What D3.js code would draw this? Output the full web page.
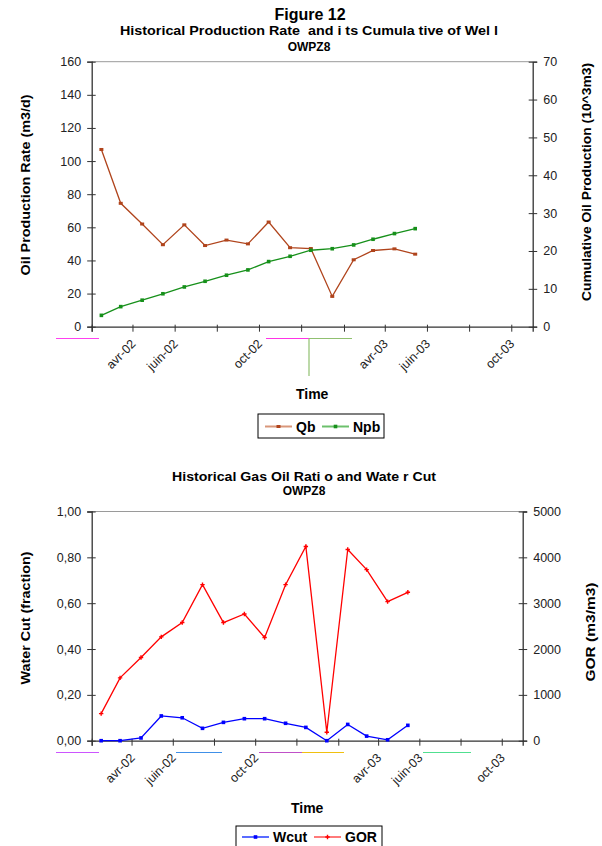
<!DOCTYPE html>
<html>
<head>
<meta charset="utf-8">
<script src="https://cdn.jsdelivr.net/npm/d3@7"></script>
<style>
  html, body { margin: 0; padding: 0; background: #fff; }
  svg { display: block; font-family: "Liberation Sans", Arial, sans-serif; }
  text { white-space: pre; }
</style>
</head>
<body>
<svg id="chart" width="602" height="846"></svg>
<script>
// ---- Well OWPZ8 monthly history ----
const dates = [
  "2002-02-15", "2002-03-15", "2002-04-15", "2002-05-15", "2002-06-15", "2002-07-15",
  "2002-08-15", "2002-09-15", "2002-10-15", "2002-11-15", "2002-12-15", "2003-01-15",
  "2003-02-15", "2003-03-15", "2003-04-15", "2003-05-15"
];
// oil production rate, m3/d
const qb   = [107, 74.5, 62, 49.5, 61.5, 49, 52.3, 50, 63.2, 47.7, 47.2, 18.3, 40.4, 46, 47, 43.8];
// cumulative oil production, 10^3 m3
const npb  = [3.0, 5.3, 7.0, 8.7, 10.5, 12.0, 13.6, 15.0, 17.2, 18.6, 20.2, 20.6, 21.6, 23.1, 24.6, 25.9];
// water cut, fraction
const wcut = [0, 0, 0.012, 0.108, 0.100, 0.054, 0.080, 0.096, 0.096, 0.076, 0.058, 0, 0.071, 0.020, 0.004, 0.067];
// gas oil ratio, m3/m3
const gor  = [590, 1370, 1815, 2265, 2577, 3404, 2577, 2764, 2251, 3404, 4238, 185, 4170, 3731, 3034, 3237];

// axis ticks and labels
const timeTickLabels = ["", "avr-02", "juin-02", "", "oct-02", "", "", "avr-03", "juin-03", "", "oct-03"];
const rateTicks = [0, 20, 40, 60, 80, 100, 120, 140, 160];
const cumTicks  = [0, 10, 20, 30, 40, 50, 60, 70];
const wcutTicks = [0, 0.2, 0.4, 0.6, 0.8, 1.0];
const gorTicks  = [0, 1000, 2000, 3000, 4000, 5000];

const parse = d3.timeParse("%Y-%m-%d");
const when = dates.map(parse);
const timeStart = new Date(2002, 1, 1);
const timeEnd = new Date(2003, 10, 1);
const timeTicks = timeTickLabels.map((_, i) => d3.timeMonth.offset(timeStart, 2 * i));
const commaFmt = v => d3.format(".2f")(v).replace(".", ",");

const svg = d3.select("#chart");
const AXIS = "#333";

function title(lines) {
  lines.forEach(l => {
    svg.append("text")
      .attr("x", l.x).attr("y", l.y)
      .attr("text-anchor", "middle")
      .attr("font-weight", "bold")
      .attr("font-size", l.size)
      .attr("textLength", l.len || null)
      .attr("lengthAdjust", "spacingAndGlyphs")
      .attr("fill", "#000")
      .text(l.text);
  });
}

function panel(cfg) {
  const x = d3.scaleTime().domain([timeStart, timeEnd]).range([cfg.left, cfg.right]);
  const yL = d3.scaleLinear().domain(cfg.leftDomain).range([cfg.bottom, cfg.top]);
  const yR = d3.scaleLinear().domain(cfg.rightDomain).range([cfg.bottom, cfg.top]);
  const g = svg.append("g");

  // plot frame: light top edge
  g.append("line").attr("x1", cfg.left).attr("x2", cfg.right)
    .attr("y1", cfg.top).attr("y2", cfg.top)
    .attr("stroke", "#9a9a9a").attr("stroke-width", 1);

  // left axis
  const ax = g.append("g").attr("transform", `translate(${cfg.left},0)`)
    .call(d3.axisLeft(yL).tickValues(cfg.leftTicks).tickFormat(cfg.leftFmt).tickSize(4.5).tickPadding(6));
  ax.select(".domain").attr("stroke", AXIS).attr("stroke-width", 1.3);
  ax.selectAll(".tick line").attr("x2", -4.5).attr("x1", 4).attr("stroke", AXIS);
  ax.selectAll(".tick text").attr("font-size", 12.5).attr("fill", "#222").attr("font-family", "Liberation Sans, Arial");

  // right axis
  const ar = g.append("g").attr("transform", `translate(${cfg.right},0)`)
    .call(d3.axisRight(yR).tickValues(cfg.rightTicks).tickFormat(cfg.rightFmt).tickSize(4.5).tickPadding(6));
  ar.select(".domain").attr("stroke", AXIS).attr("stroke-width", 1.3);
  ar.selectAll(".tick line").attr("x2", 4.5).attr("x1", -4).attr("stroke", AXIS);
  ar.selectAll(".tick text").attr("font-size", 12.5).attr("fill", "#222").attr("font-family", "Liberation Sans, Arial");

  // time axis
  const ab = g.append("g").attr("transform", `translate(0,${cfg.bottom})`)
    .call(d3.axisBottom(x).tickValues(timeTicks).tickFormat("").tickSize(5));
  ab.select(".domain").attr("stroke", AXIS).attr("stroke-width", 1.3);
  ab.selectAll(".tick line").attr("y1", -2).attr("stroke", AXIS);
  timeTicks.forEach((d, i) => {
    if (!timeTickLabels[i]) return;
    g.append("text")
      .attr("transform", `translate(${x(d) + 4},${cfg.bottom + 18}) rotate(-45)`)
      .attr("text-anchor", "end")
      .attr("font-size", 12.5).attr("fill", "#222")
      .text(timeTickLabels[i]);
  });

  // short coloured strokes under the time axis
  cfg.strokes.forEach(s => {
    g.append("line").attr("x1", s.x1).attr("x2", s.x2).attr("y1", s.y1).attr("y2", s.y2)
      .attr("stroke", s.c).attr("stroke-width", 1.2);
  });

  // series
  cfg.series.forEach(s => {
    const y = s.axis === "left" ? yL : yR;
    const pts = s.values.map((v, i) => [x(when[i]), y(v)]);
    g.append("path").attr("d", d3.line()(pts))
      .attr("fill", "none").attr("stroke", s.color).attr("stroke-width", 1.3);
    pts.forEach(p => marker(g, p[0], p[1], s.marker, s.color));
  });

  // axis titles
  const at = (tx, ty, text, len) => g.append("text")
    .attr("transform", `translate(${tx},${ty}) rotate(-90)`)
    .attr("text-anchor", "middle").attr("font-weight", "bold").attr("font-size", 13.5)
    .attr("textLength", len).attr("lengthAdjust", "spacingAndGlyphs")
    .text(text);
  at(cfg.leftTitle.x, cfg.leftTitle.y, cfg.leftTitle.text, cfg.leftTitle.len);
  at(cfg.rightTitle.x, cfg.rightTitle.y, cfg.rightTitle.text, cfg.rightTitle.len);

  g.append("text")
    .attr("x", (cfg.left + cfg.right) / 2).attr("y", cfg.timeTitleY)
    .attr("text-anchor", "middle").attr("font-weight", "bold").attr("font-size", 14)
    .text("Time");

  // legend
  const lg = cfg.legend;
  g.append("rect").attr("x", lg.x).attr("y", lg.y).attr("width", lg.w).attr("height", lg.h)
    .attr("fill", "#fff").attr("stroke", "#000").attr("stroke-width", 1);
  cfg.series.forEach((s, i) => {
    const sx = lg.x + lg.items[i];
    const cy = lg.y + lg.cy;
    g.append("line").attr("x1", sx).attr("x2", sx + 27).attr("y1", cy).attr("y2", cy)
      .attr("stroke", s.legendColor).attr("stroke-width", 2);
    marker(g, sx + 13.5, cy, s.marker, s.color);
    g.append("text").attr("x", sx + 31).attr("y", cy + 5)
      .attr("font-weight", "bold").attr("font-size", 14).text(s.name);
  });
}

function marker(g, cx, cy, type, color) {
  if (type === "square") {
    g.append("rect").attr("x", cx - 1.8).attr("y", cy - 1.8).attr("width", 3.6).attr("height", 3.6)
      .attr("fill", color);
  } else if (type === "plus") {
    g.append("path").attr("d", `M${cx - 2.2},${cy}H${cx + 2.2}M${cx},${cy - 2.2}V${cy + 2.2}`)
      .attr("stroke", color).attr("stroke-width", 1.4);
  } else {
    g.append("rect").attr("x", cx - 2).attr("y", cy - 1.5).attr("width", 4).attr("height", 3)
      .attr("fill", color);
  }
}

// ---- Figure 12: production rate and cumulative ----
title([
  { x: 310, y: 20, size: 16, text: "Figure 12" },
  { x: 309, y: 35, size: 12, text: "Historical Production Rate  and i ts Cumula tive of Wel l", len: 378 },
  { x: 309, y: 51, size: 12, text: "OWPZ8" }
]);

panel({
  left: 91.7, right: 532.7, top: 61.7, bottom: 326.7,
  leftDomain: [0, 160], rightDomain: [0, 70],
  leftTicks: rateTicks, rightTicks: cumTicks,
  leftFmt: d3.format("d"), rightFmt: d3.format("d"),
  leftTitle: { x: 30, y: 185, text: "Oil Production Rate (m3/d)", len: 181 },
  rightTitle: { x: 591, y: 182, text: "Cumulative Oil Production (10^3m3)", len: 238 },
  timeTitleY: 399,
  legend: { x: 258, y: 414, w: 126, h: 24, cy: 12.5, items: [7, 64] },
  strokes: [
    { x1: 56, x2: 99, y1: 338.5, y2: 338.5, c: "#ff40f0" },
    { x1: 266, x2: 309, y1: 338.5, y2: 338.5, c: "#ff33e6" },
    { x1: 309, x2: 352, y1: 338.5, y2: 338.5, c: "#90c070" },
    { x1: 309, x2: 309, y1: 338.5, y2: 376, c: "#90c070" }
  ],
  series: [
    { name: "Qb", values: qb, axis: "left", color: "#b0441c", legendColor: "#d9977a", marker: "dash" },
    { name: "Npb", values: npb, axis: "right", color: "#16901a", legendColor: "#6cc06c", marker: "square" }
  ]
});

// ---- Gas oil ratio and water cut ----
title([
  { x: 304, y: 481, size: 12, text: "Historical Gas Oil Rati o and Wate r Cut", len: 264 },
  { x: 304, y: 495, size: 12, text: "OWPZ8" }
]);

panel({
  left: 91.7, right: 522.7, top: 511.5, bottom: 740.7,
  leftDomain: [0, 1], rightDomain: [0, 5000],
  leftTicks: wcutTicks, rightTicks: gorTicks,
  leftFmt: commaFmt, rightFmt: d3.format("d"),
  leftTitle: { x: 30, y: 618, text: "Water Cut (fraction)", len: 133 },
  rightTitle: { x: 595, y: 632, text: "GOR (m3/m3)", len: 99 },
  timeTitleY: 813,
  legend: { x: 236, y: 826, w: 146, h: 24, cy: 11, items: [6, 78] },
  strokes: [
    { x1: 56, x2: 99, y1: 752.5, y2: 752.5, c: "#cc55ff" },
    { x1: 176, x2: 222, y1: 752.5, y2: 752.5, c: "#4090e8" },
    { x1: 259, x2: 302, y1: 752.5, y2: 752.5, c: "#c050c8" },
    { x1: 302, x2: 344, y1: 752.5, y2: 752.5, c: "#f0c010" },
    { x1: 423, x2: 471, y1: 752.5, y2: 752.5, c: "#50e090" }
  ],
  series: [
    { name: "Wcut", values: wcut, axis: "left", color: "#0000ff", legendColor: "#5a6cff", marker: "square" },
    { name: "GOR", values: gor, axis: "right", color: "#ff0000", legendColor: "#ff7a7a", marker: "plus" }
  ]
});
</script>
</body>
</html>
